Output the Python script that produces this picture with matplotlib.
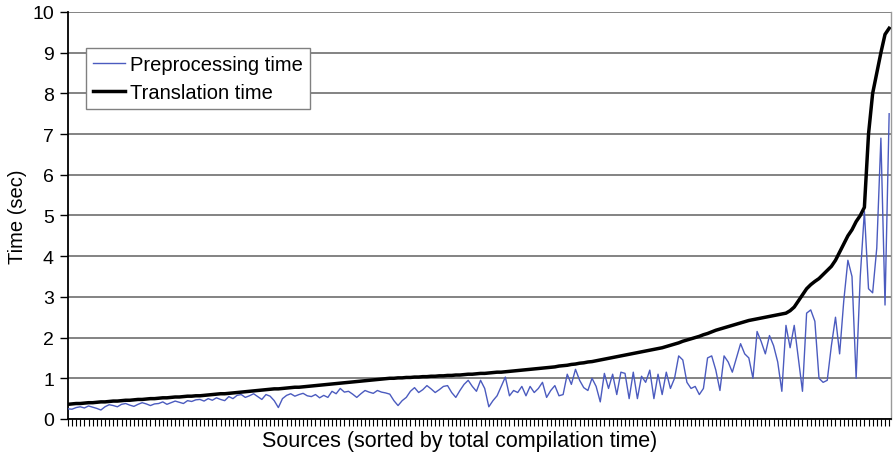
import matplotlib
matplotlib.use("Agg")
import matplotlib.pyplot as plt
from matplotlib.ticker import MultipleLocator
import numpy as np

plt.rcParams['font.family'] = ['Liberation Sans', 'DejaVu Sans']

translation = [
    0.36,0.37,0.38,0.38,0.39,0.40,0.40,0.41,0.42,0.42,
    0.43,0.44,0.44,0.45,0.46,0.46,0.47,0.48,0.48,0.49,
    0.50,0.50,0.51,0.52,0.52,0.53,0.54,0.54,0.55,0.56,
    0.56,0.57,0.57,0.58,0.59,0.60,0.61,0.62,0.62,0.63,
    0.64,0.65,0.66,0.67,0.68,0.69,0.70,0.71,0.72,0.73,
    0.74,0.74,0.75,0.76,0.77,0.78,0.78,0.79,0.80,0.81,
    0.82,0.83,0.84,0.85,0.86,0.87,0.88,0.89,0.90,0.91,
    0.92,0.93,0.94,0.95,0.96,0.97,0.98,0.99,1.00,1.00,
    1.01,1.01,1.02,1.02,1.03,1.03,1.04,1.04,1.05,1.05,
    1.06,1.06,1.07,1.07,1.08,1.08,1.09,1.10,1.10,1.11,
    1.12,1.12,1.13,1.14,1.15,1.15,1.16,1.17,1.18,1.19,
    1.20,1.21,1.22,1.23,1.24,1.25,1.26,1.27,1.28,1.30,
    1.31,1.32,1.34,1.35,1.37,1.38,1.40,1.41,1.43,1.45,
    1.47,1.49,1.51,1.53,1.55,1.57,1.59,1.61,1.63,1.65,
    1.67,1.69,1.71,1.73,1.75,1.78,1.81,1.84,1.87,1.91,
    1.94,1.97,2.00,2.03,2.07,2.10,2.14,2.18,2.21,2.24,
    2.27,2.30,2.33,2.36,2.39,2.42,2.44,2.46,2.48,2.50,
    2.52,2.54,2.56,2.58,2.60,2.66,2.75,2.90,3.05,3.20,
    3.30,3.38,3.45,3.55,3.65,3.75,3.90,4.10,4.30,4.50,
    4.65,4.85,5.00,5.20,7.00,8.00,8.50,9.00,9.45,9.60,
]

preprocessing = [
    0.25,0.24,0.28,0.30,0.27,0.32,0.29,0.26,0.22,0.30,
    0.35,0.33,0.30,0.36,0.38,0.34,0.31,0.36,0.40,0.37,
    0.33,0.37,0.38,0.42,0.36,0.40,0.44,0.41,0.38,0.45,
    0.43,0.47,0.48,0.44,0.50,0.46,0.52,0.48,0.45,0.55,
    0.50,0.58,0.60,0.53,0.57,0.62,0.55,0.48,0.60,0.56,
    0.45,0.28,0.50,0.58,0.62,0.56,0.60,0.63,0.57,0.55,
    0.60,0.52,0.58,0.53,0.68,0.62,0.75,0.66,0.68,0.61,
    0.53,0.62,0.70,0.66,0.63,0.70,0.66,0.64,0.61,0.45,
    0.33,0.45,0.53,0.68,0.77,0.65,0.72,0.82,0.74,0.65,
    0.72,0.80,0.82,0.65,0.53,0.70,0.85,0.95,0.80,0.68,
    0.95,0.75,0.30,0.45,0.57,0.80,1.03,0.57,0.70,0.65,
    0.80,0.57,0.80,0.65,0.75,0.90,0.53,0.70,0.82,0.57,
    0.60,1.10,0.85,1.22,0.95,0.77,0.70,1.00,0.80,0.42,
    1.12,0.75,1.10,0.60,1.15,1.12,0.50,1.15,0.50,1.05,
    0.90,1.20,0.50,1.10,0.60,1.15,0.75,1.00,1.55,1.45,
    0.90,0.75,0.80,0.60,0.75,1.50,1.55,1.20,0.70,1.55,
    1.40,1.15,1.50,1.85,1.60,1.50,1.00,2.15,1.90,1.60,
    2.05,1.80,1.40,0.68,2.30,1.75,2.30,1.50,0.68,2.60,
    2.68,2.40,1.00,0.90,0.95,1.80,2.50,1.60,2.90,3.90,
    3.50,1.00,3.50,5.10,3.20,3.10,4.20,6.90,2.80,7.50,
]

y_ticks = list(range(0, 11))
x_label = "Sources (sorted by total compilation time)"
y_label = "Time (sec)"
legend_labels = ["Preprocessing time", "Translation time"]

fig = plt.figure(figsize=(8.93, 4.56), dpi=100)
ax = fig.add_axes([0.076, 0.079, 0.922, 0.8925])

x = np.arange(len(translation))
ax.plot(x, preprocessing, color='#4b5bbf', lw=1.0, label=legend_labels[0], zorder=3)
ax.plot(x, translation, color='black', lw=2.5, label=legend_labels[1], zorder=4)

ax.set_ylim(0, 10)
ax.set_xlim(0, len(translation) - 0.5)
ax.set_yticks(y_ticks)
ax.yaxis.grid(True, color='#7a7a7a', lw=1.3)
ax.set_axisbelow(True)

ax.xaxis.set_major_locator(MultipleLocator(1))
ax.set_xticklabels([])
ax.tick_params(axis='x', direction='out', length=5, width=0.8, color='black')
ax.tick_params(axis='y', direction='out', length=6, width=1.0, labelsize=14, pad=4)

for s in ['left', 'bottom']:
    ax.spines[s].set_color('black')
    ax.spines[s].set_linewidth(1.3)
ax.spines['top'].set_visible(False)
ax.spines['right'].set_color('#9a9a9a')
ax.spines['right'].set_linewidth(1.0)

ax.set_xlabel(x_label, fontsize=15.5, labelpad=2)
ax.xaxis.set_label_coords(0.476, -0.028, transform=ax.transAxes)
ax.xaxis.label.set_va('top')
ax.set_ylabel(y_label, fontsize=14.5, labelpad=4)

leg = ax.legend(loc='upper left', bbox_to_anchor=(0.022, 0.912), fontsize=14.5,
                frameon=True, fancybox=False, framealpha=1, edgecolor='#808080',
                handlelength=1.6, handletextpad=0.25, borderpad=0.35, labelspacing=0.45,
                borderaxespad=0)
leg.get_frame().set_linewidth(1.0)

fig.savefig("out.png", dpi=100)
